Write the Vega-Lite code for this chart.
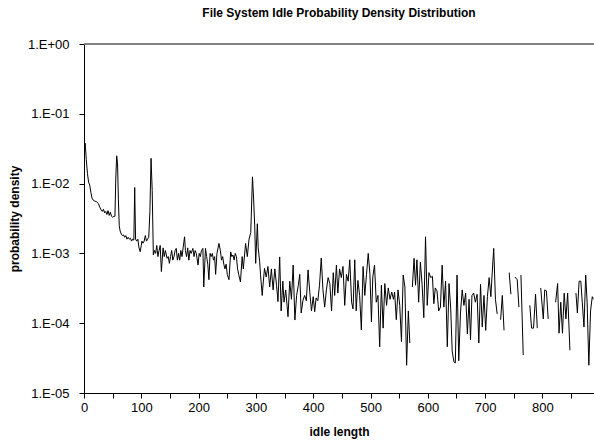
{
  "$schema": "https://vega.github.io/schema/vega-lite/v6.json",
  "width": 510,
  "height": 349,
  "autosize": "none",
  "padding": {"left": 84, "top": 44, "right": 0, "bottom": 51},
  "background": "white",
  "config": {
    "view": {"stroke": null},
    "font": "Liberation Sans",
    "axis": {"labelFont": "Liberation Sans", "titleFont": "Liberation Sans", "labelColor": "#000", "titleColor": "#000", "domainColor": "#000", "tickColor": "#000", "grid": false}
  },
  "title": {"text": "File System Idle Probability Density Distribution", "font": "Liberation Sans", "fontSize": 12, "fontWeight": "bold", "anchor": "middle", "frame": "group", "offset": 18, "color": "#000"},
  "data": {"values": [
    {"x": 0, "v": 0.028}, {"x": 2, "v": 0.038}, {"x": 4, "v": 0.022}, {"x": 6, "v": 0.014}, {"x": 8, "v": 0.0105}, {"x": 10, "v": 0.0095}, {"x": 12, "v": 0.0075}, {"x": 14, "v": 0.0062}, {"x": 16, "v": 0.0058}, {"x": 19, "v": 0.0056}, {"x": 22, "v": 0.0055}, {"x": 25, "v": 0.0052}, {"x": 28, "v": 0.0045}, {"x": 30, "v": 0.0042}, {"x": 32, "v": 0.004}, {"x": 34, "v": 0.0043}, {"x": 36, "v": 0.0038}, {"x": 38, "v": 0.004}, {"x": 40, "v": 0.0036}, {"x": 42, "v": 0.0041}, {"x": 44, "v": 0.0035}, {"x": 46, "v": 0.0039}, {"x": 48, "v": 0.0034}, {"x": 50, "v": 0.0033}, {"x": 52, "v": 0.0034}, {"x": 54, "v": 0.0034},
    {"x": 55.5, "v": 0.012}, {"x": 57, "v": 0.025}, {"x": 58.5, "v": 0.02}, {"x": 60, "v": 0.006}, {"x": 61.5, "v": 0.0025}, {"x": 63, "v": 0.0021}, {"x": 65, "v": 0.0019}, {"x": 67, "v": 0.0018}, {"x": 69, "v": 0.00184}, {"x": 71, "v": 0.0017}, {"x": 73, "v": 0.0018}, {"x": 75, "v": 0.0016}, {"x": 77, "v": 0.0017}, {"x": 79, "v": 0.0016}, {"x": 81, "v": 0.00165}, {"x": 83, "v": 0.0015}, {"x": 85, "v": 0.0016}, {"x": 87, "v": 0.00155}, {"x": 88.5, "v": 0.0088}, {"x": 90, "v": 0.0016}, {"x": 92, "v": 0.0015}, {"x": 94, "v": 0.0016}, {"x": 96, "v": 0.0012}, {"x": 98, "v": 0.00106}, {"x": 100, "v": 0.0013}, {"x": 101, "v": 0.0015}, {"x": 103, "v": 0.0014}, {"x": 105, "v": 0.0015}, {"x": 107, "v": 0.0018}, {"x": 109, "v": 0.0015}, {"x": 111, "v": 0.0016}, {"x": 113, "v": 0.0017}, {"x": 115, "v": 0.004}, {"x": 117, "v": 0.023}, {"x": 119, "v": 0.008},
    {"x": 121, "v": 0.00095}, {"x": 123, "v": 0.0011}, {"x": 125, "v": 0.001}, {"x": 127, "v": 0.0013}, {"x": 129, "v": 0.0009}, {"x": 131, "v": 0.0011}, {"x": 133, "v": 0.0013}, {"x": 135, "v": 0.00055}, {"x": 138, "v": 0.0012}, {"x": 140, "v": 0.0009}, {"x": 142, "v": 0.0011}, {"x": 145, "v": 0.00085}, {"x": 147, "v": 0.0009}, {"x": 149, "v": 0.00072}, {"x": 151, "v": 0.0009}, {"x": 153, "v": 0.0011}, {"x": 155, "v": 0.0008}, {"x": 157, "v": 0.0009}, {"x": 159, "v": 0.0011}, {"x": 161, "v": 0.00118}, {"x": 163, "v": 0.0008}, {"x": 165, "v": 0.001}, {"x": 167, "v": 0.0008}, {"x": 169, "v": 0.0011}, {"x": 171, "v": 0.0009}, {"x": 173, "v": 0.0012}, {"x": 175.5, "v": 0.00173}, {"x": 177, "v": 0.0011}, {"x": 179, "v": 0.0009}, {"x": 181, "v": 0.0012}, {"x": 183, "v": 0.0008}, {"x": 185, "v": 0.0011}, {"x": 187, "v": 0.001}, {"x": 190, "v": 0.00118}, {"x": 192, "v": 0.0009}, {"x": 194, "v": 0.0011}, {"x": 196, "v": 0.001}, {"x": 199, "v": 0.00068}, {"x": 201, "v": 0.001}, {"x": 203, "v": 0.0009}, {"x": 205, "v": 0.0011}, {"x": 207.5, "v": 0.00118}, {"x": 209, "v": 0.00033}, {"x": 212, "v": 0.00118}, {"x": 214, "v": 0.0009}, {"x": 216, "v": 0.0007}, {"x": 218, "v": 0.00042}, {"x": 220, "v": 0.001}, {"x": 222, "v": 0.0009}, {"x": 224, "v": 0.001}, {"x": 226, "v": 0.0008}, {"x": 228, "v": 0.0009}, {"x": 229.7, "v": 0.0005}, {"x": 232, "v": 0.001}, {"x": 235.5, "v": 0.00139}, {"x": 238, "v": 0.0011}, {"x": 240, "v": 0.0008}, {"x": 242, "v": 0.0009}, {"x": 244, "v": 0.0007}, {"x": 246, "v": 0.0006}, {"x": 248, "v": 0.0007}, {"x": 250, "v": 0.0005}, {"x": 253, "v": 0.00042}, {"x": 256, "v": 0.00105}, {"x": 258, "v": 0.0009}, {"x": 260, "v": 0.00095}, {"x": 262, "v": 0.0008}, {"x": 264, "v": 0.001}, {"x": 266, "v": 0.0009}, {"x": 268, "v": 0.0006}, {"x": 270, "v": 0.0005}, {"x": 273, "v": 0.00039}, {"x": 276, "v": 0.0009}, {"x": 278, "v": 0.0006}, {"x": 282, "v": 0.00139}, {"x": 285, "v": 0.0009}, {"x": 288, "v": 0.0016}, {"x": 291, "v": 0.002}, {"x": 294, "v": 0.0125}, {"x": 296, "v": 0.006}, {"x": 298, "v": 0.0024}, {"x": 299.6, "v": 0.00072}, {"x": 302.5, "v": 0.00266}, {"x": 304, "v": 0.0012}, {"x": 306.5, "v": 0.00077}, {"x": 308, "v": 0.0005},
    {"x": 311, "v": 0.00025}, {"x": 313, "v": 0.0004}, {"x": 315, "v": 0.00061}, {"x": 318, "v": 0.00046}, {"x": 321, "v": 0.00065}, {"x": 324, "v": 0.00033}, {"x": 327, "v": 0.0006}, {"x": 330, "v": 0.0003}, {"x": 333, "v": 0.0006}, {"x": 336, "v": 0.00035}, {"x": 338.5, "v": 0.000204}, {"x": 341.5, "v": 0.00089}, {"x": 344, "v": 0.00015}, {"x": 347, "v": 0.0004}, {"x": 349, "v": 0.0002}, {"x": 352, "v": 0.0003}, {"x": 356, "v": 0.000124}, {"x": 359, "v": 0.0004}, {"x": 362, "v": 0.00022}, {"x": 365, "v": 0.00068}, {"x": 368, "v": 0.000111}, {"x": 371, "v": 0.00025}, {"x": 374, "v": 0.00035}, {"x": 376.5, "v": 0.0005}, {"x": 379, "v": 0.00014}, {"x": 382, "v": 0.00021}, {"x": 385, "v": 0.00025}, {"x": 388, "v": 0.00021}, {"x": 391, "v": 0.00058}, {"x": 394, "v": 0.00028}, {"x": 397, "v": 0.00015}, {"x": 400, "v": 0.00024}, {"x": 402.6, "v": 0.000146}, {"x": 405, "v": 0.00023}, {"x": 408, "v": 0.00021}, {"x": 411, "v": 0.00035}, {"x": 414, "v": 0.00086}, {"x": 417, "v": 0.0003}, {"x": 420, "v": 0.00017}, {"x": 423, "v": 0.0003}, {"x": 426, "v": 0.00045}, {"x": 429, "v": 0.00037}, {"x": 432, "v": 0.00015}, {"x": 435, "v": 0.00053}, {"x": 437.5, "v": 0.00025}, {"x": 440.5, "v": 0.00068}, {"x": 443, "v": 0.00027}, {"x": 446, "v": 0.0006}, {"x": 449, "v": 0.00045}, {"x": 452, "v": 0.00065}, {"x": 455, "v": 0.00018}, {"x": 458, "v": 0.0005}, {"x": 461, "v": 0.0004}, {"x": 463.8, "v": 0.00081}, {"x": 467, "v": 0.0002}, {"x": 469.5, "v": 0.00016}, {"x": 472.5, "v": 0.00081}, {"x": 475, "v": 0.00015}, {"x": 478, "v": 0.00041}, {"x": 481, "v": 0.00025}, {"x": 484, "v": 0.00008}, {"x": 487, "v": 0.00065}, {"x": 490, "v": 0.00025}, {"x": 493, "v": 0.0005}, {"x": 496, "v": 0.001}, {"x": 499, "v": 0.0005}, {"x": 501.6, "v": 0.000105}, {"x": 504, "v": 0.00046}, {"x": 507, "v": 0.00068}, {"x": 510, "v": 0.0002}, {"x": 513, "v": 0.00025}, {"x": 516, "v": 0.000046}, {"x": 519, "v": 0.00035}, {"x": 522, "v": 0.000085}, {"x": 525, "v": 0.00037}, {"x": 528, "v": 0.00018}, {"x": 531, "v": 0.00032}, {"x": 534, "v": 0.00022}, {"x": 537, "v": 0.00028}, {"x": 540, "v": 0.00022}, {"x": 542, "v": 0.00028}, {"x": 545, "v": 0.000112}, {"x": 548, "v": 0.0003}, {"x": 551, "v": 0.00018}, {"x": 554, "v": 0.0000545}, {"x": 557, "v": 0.00049}, {"x": 560, "v": 0.00033}, {"x": 563, "v": 0.000025}, {"x": 566, "v": 0.00015}, {"x": 568.6, "v": 0.000052}, {"x": 571, "v": null},
    {"x": 573, "v": 0.00033}, {"x": 576, "v": 0.00085}, {"x": 578.5, "v": 0.00035}, {"x": 581, "v": 0.00081}, {"x": 584, "v": 0.0002}, {"x": 587, "v": 0.00075}, {"x": 590, "v": 0.00036}, {"x": 593, "v": 0.00012}, {"x": 596, "v": 0.00173}, {"x": 599, "v": 0.00018}, {"x": 602, "v": 0.00053}, {"x": 605, "v": 0.00045}, {"x": 608, "v": 0.00047}, {"x": 610.5, "v": 0.00019}, {"x": 613, "v": 0.00032}, {"x": 616, "v": 0.00029}, {"x": 619, "v": 0.00015}, {"x": 622, "v": 0.00017}, {"x": 625, "v": 0.00068}, {"x": 628, "v": 0.00017}, {"x": 631, "v": 0.0004}, {"x": 634, "v": 0.000046}, {"x": 637, "v": 0.00037}, {"x": 640, "v": 0.00016}, {"x": 642.5, "v": 0.00004}, {"x": 645.5, "v": 0.000028}, {"x": 648, "v": 0.000027}, {"x": 651, "v": 0.00049}, {"x": 654, "v": 0.000029}, {"x": 657, "v": 0.00014}, {"x": 660, "v": 0.0003}, {"x": 663, "v": 0.00018}, {"x": 666, "v": 0.00027}, {"x": 669, "v": 0.00007}, {"x": 672, "v": 0.00022}, {"x": 674.5, "v": 0.000058}, {"x": 677, "v": 0.00025}, {"x": 680, "v": 0.00027}, {"x": 683, "v": 0.0002}, {"x": 686, "v": 0.00026}, {"x": 689, "v": 0.000052}, {"x": 692, "v": 0.00036}, {"x": 695, "v": 0.000088}, {"x": 698, "v": 0.00025}, {"x": 701, "v": 0.000079}, {"x": 704, "v": 0.00024}, {"x": 707, "v": 0.00045}, {"x": 710, "v": 0.00024}, {"x": 712, "v": 0.00047}, {"x": 715, "v": 0.00118}, {"x": 718, "v": 0.00022}, {"x": 721, "v": 0.000136}, {"x": 724, "v": null},
    {"x": 727, "v": 0.000112}, {"x": 730, "v": 0.00025}, {"x": 733, "v": 0.000079}, {"x": 737, "v": null},
    {"x": 742, "v": 0.00053}, {"x": 745, "v": 0.00026}, {"x": 749, "v": null},
    {"x": 752, "v": 0.00046}, {"x": 756, "v": 0.00042}, {"x": 759, "v": 0.00017}, {"x": 761, "v": null},
    {"x": 762.5, "v": 0.00049}, {"x": 766.5, "v": 0.000035}, {"x": 772, "v": null},
    {"x": 778, "v": 0.00018}, {"x": 781, "v": 0.000085}, {"x": 784.5, "v": 0.000085}, {"x": 788, "v": 0.00026}, {"x": 791, "v": 0.000085}, {"x": 794, "v": null},
    {"x": 797, "v": 0.00032}, {"x": 801.5, "v": 0.000115}, {"x": 804, "v": 0.0003}, {"x": 807, "v": 0.00029}, {"x": 810, "v": 0.000115}, {"x": 815, "v": null},
    {"x": 823, "v": 0.0002}, {"x": 826.5, "v": 0.00037}, {"x": 829, "v": 0.000072}, {"x": 832, "v": 0.0002}, {"x": 835, "v": 0.000072}, {"x": 838, "v": 0.00027}, {"x": 841, "v": 0.000115}, {"x": 844, "v": 0.00027}, {"x": 848, "v": 0.000041}, {"x": 852, "v": null},
    {"x": 858.5, "v": 0.00027}, {"x": 861, "v": 0.00014}, {"x": 864, "v": 0.0004}, {"x": 867, "v": 0.0004}, {"x": 869.5, "v": 0.0002}, {"x": 872.5, "v": 0.000088}, {"x": 875.5, "v": 0.00049}, {"x": 878, "v": 0.0002}, {"x": 881, "v": 0.000025}, {"x": 884, "v": 0.00015}, {"x": 887, "v": 0.00024}, {"x": 889, "v": 0.00022}
  ]},
  "layer": [
    {
      "mark": {"type": "rule", "color": "#808080", "strokeWidth": 1},
      "encoding": {"y": {"datum": 1, "type": "quantitative", "scale": {"type": "log", "domain": [0.00001, 1]}}}
    },
    {
      "mark": {"type": "line", "color": "#000", "strokeWidth": 1, "clip": true, "invalid": "break-paths-filter-domains"},
      "encoding": {
        "x": {"field": "x", "type": "quantitative", "scale": {"domain": [0, 890], "nice": false, "zero": false},
          "axis": {"values": [0, 50, 100, 150, 200, 250, 300, 350, 400, 450, 500, 550, 600, 650, 700, 750, 800, 850], "labelExpr": "datum.value % 100 == 0 ? format(datum.value, 'd') : ''", "labelFontSize": 13, "tickSize": 5, "labelPadding": 3, "title": "idle length", "titleFontSize": 12, "titleFontWeight": "bold", "titlePadding": 12, "labelFlush": false, "labelOverlap": false}},
        "y": {"field": "v", "type": "quantitative", "scale": {"type": "log", "domain": [0.00001, 1], "nice": false},
          "axis": {"values": [1, 0.1, 0.01, 0.001, 0.0001, 0.00001], "labelExpr": "datum.value >= 1 ? '1.E+00' : '1.E-0' + format(round(-log(datum.value)/LN10), 'd')", "labelFontSize": 13, "tickSize": 5, "labelPadding": 10, "title": "probability density", "titleFontSize": 12, "titleFontWeight": "bold", "titlePadding": 6, "labelFlush": false, "labelOverlap": false}}
      }
    }
  ]
}
